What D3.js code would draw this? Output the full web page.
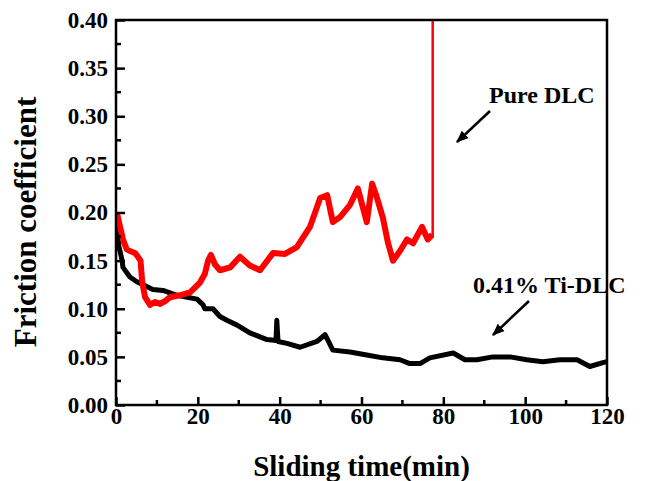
<!DOCTYPE html>
<html>
<head>
<meta charset="utf-8">
<script src="https://cdn.jsdelivr.net/npm/d3@7"></script>
<style>
  body { margin: 0; background: #fff; }
  svg text { font-family: "Liberation Serif", "Times New Roman", serif; font-weight: bold; fill: #000; }
</style>
</head>
<body>
<div id="chart"></div>
<script>
// values
const pureTime = [0.2, 1.0, 1.7, 2.6, 3.4, 4.6, 5.2, 6.0, 6.4, 7.1, 8.3, 9.5, 10.8, 12, 13.2, 15.6, 18.1, 20.5, 21.7, 22.5, 23.2, 24.2, 25.4, 27.9, 30.3, 32.7, 35.2, 38.4, 41.3, 44.2, 47.4, 49.9, 51.6, 53, 54.7, 57.2, 59.1, 61.3, 62.6, 63.8, 65.2, 66.5, 67.7, 69.4, 71.1, 72.6, 74.8, 76.2, 77.3];
const pureCof  = [0.200, 0.185, 0.172, 0.162, 0.160, 0.158, 0.155, 0.150, 0.128, 0.112, 0.104, 0.107, 0.105, 0.108, 0.112, 0.114, 0.117, 0.127, 0.136, 0.150, 0.156, 0.146, 0.140, 0.143, 0.154, 0.145, 0.140, 0.158, 0.157, 0.164, 0.185, 0.215, 0.218, 0.190, 0.195, 0.208, 0.225, 0.190, 0.230, 0.215, 0.195, 0.168, 0.150, 0.160, 0.172, 0.168, 0.185, 0.172, 0.177];
const spikeTime = [77.4, 77.4];
const spikeCof  = [0.175, 0.40];

const tiTime = [0.2, 0.7, 1.5, 1.7, 3.4, 5.1, 6.6, 9, 11.5, 14.9, 17.4, 19.8, 21.3, 21.7, 23.7, 25.4, 27.1, 29.6, 32.7, 36.9, 39.1, 39.3, 39.6, 41.8, 45, 49.1, 51.1, 53, 57.2, 61.3, 65.2, 69.4, 71.8, 74.3, 76.7, 82.4, 85.3, 88.2, 92.1, 96.3, 100.4, 104.3, 108.5, 112.7, 115.8, 119, 120];
const tiCof  = [0.185, 0.165, 0.150, 0.143, 0.133, 0.128, 0.125, 0.120, 0.119, 0.114, 0.112, 0.110, 0.104, 0.100, 0.100, 0.092, 0.088, 0.083, 0.075, 0.068, 0.067, 0.088, 0.066, 0.064, 0.060, 0.066, 0.073, 0.057, 0.055, 0.052, 0.049, 0.047, 0.043, 0.043, 0.049, 0.054, 0.047, 0.047, 0.050, 0.050, 0.047, 0.045, 0.047, 0.047, 0.040, 0.044, 0.045];

const xTicks = [0, 20, 40, 60, 80, 100, 120];
const xMinor = [10, 30, 50, 70, 90, 110];
const yTicks = [0, 0.05, 0.10, 0.15, 0.20, 0.25, 0.30, 0.35, 0.40];
const yMinor = [0.025, 0.075, 0.125, 0.175, 0.225, 0.275, 0.325, 0.375];

const W = 655, H = 481;
const margin = { top: 20, right: 48, bottom: 76, left: 116 };
const width = W - margin.left - margin.right;
const height = H - margin.top - margin.bottom;

const svg = d3.select("#chart").append("svg")
  .attr("width", W)
  .attr("height", H);

const g = svg.append("g")
  .attr("transform", `translate(${margin.left},${margin.top})`);

const x = d3.scaleLinear().domain([0, 120]).range([0, width]);
const y = d3.scaleLinear().domain([0, 0.40]).range([height, 0]);

g.append("clipPath").attr("id", "clip")
  .append("rect").attr("width", width).attr("height", height);

const line = d3.line().x(d => x(d[0])).y(d => y(d[1]));

const plot = g.append("g").attr("clip-path", "url(#clip)");

plot.append("path")
  .datum(tiTime.map((t, i) => [t, tiCof[i]]))
  .attr("fill", "none")
  .attr("stroke", "#000")
  .attr("stroke-width", 5)
  .attr("stroke-linejoin", "round")
  .attr("d", line);

plot.append("path")
  .datum(pureTime.map((t, i) => [t, pureCof[i]]))
  .attr("fill", "none")
  .attr("stroke", "#ff0000")
  .attr("stroke-width", 6)
  .attr("stroke-linejoin", "round")
  .attr("d", line);

plot.append("path")
  .datum(spikeTime.map((t, i) => [t, spikeCof[i]]))
  .attr("fill", "none")
  .attr("stroke", "#ff0000")
  .attr("stroke-width", 2.5)
  .attr("d", line);

// axes
const xAxis = g.append("g")
  .attr("transform", `translate(0,${height})`)
  .call(d3.axisBottom(x).tickValues(xTicks).tickSize(-8).tickPadding(3).tickFormat(d3.format("d")));
xAxis.append("g").selectAll("line").data(xMinor).enter().append("line")
  .attr("x1", d => x(d)).attr("x2", d => x(d)).attr("y1", 0).attr("y2", -5)
  .attr("stroke", "#000").attr("stroke-width", 2.5);

const yAxis = g.append("g")
  .call(d3.axisLeft(y).tickValues(yTicks).tickSize(-9).tickPadding(8).tickFormat(d3.format(".2f")));
yAxis.append("g").selectAll("line").data(yMinor).enter().append("line")
  .attr("x1", 0).attr("x2", 5).attr("y1", d => y(d)).attr("y2", d => y(d))
  .attr("stroke", "#000").attr("stroke-width", 2.5);

[xAxis, yAxis].forEach(ax => {
  ax.select(".domain").remove();
  ax.selectAll(".tick line").attr("stroke", "#000").attr("stroke-width", 2.5);
  ax.selectAll(".tick text").style("font-size", "23px");
});

// frame
g.append("rect")
  .attr("width", width).attr("height", height)
  .attr("fill", "none").attr("stroke", "#000").attr("stroke-width", 2.5);

// axis titles
svg.append("text")
  .attr("x", margin.left + width / 2)
  .attr("y", 476)
  .attr("text-anchor", "middle")
  .style("font-size", "29px")
  .text("Sliding time(min)");

svg.append("text")
  .attr("transform", `translate(36,${222}) rotate(-90)`)
  .attr("text-anchor", "middle")
  .style("font-size", "31px")
  .text("Friction coefficient");

// annotations
svg.append("defs").append("marker")
  .attr("id", "arrow")
  .attr("viewBox", "0 0 10 10")
  .attr("refX", 9).attr("refY", 5)
  .attr("markerWidth", 5).attr("markerHeight", 5)
  .attr("orient", "auto")
  .append("path").attr("d", "M0,1 L10,5 L0,9 Z").attr("fill", "#000");

const notes = [
  { text: "Pure DLC", tx: 489, ty: 103, x1: 490, y1: 111, x2: 457, y2: 142 },
  { text: "0.41% Ti-DLC", tx: 473, ty: 293, x1: 529, y1: 301, x2: 493, y2: 335 }
];

notes.forEach(n => {
  svg.append("text").attr("x", n.tx).attr("y", n.ty).style("font-size", "24px").text(n.text);
  svg.append("line")
    .attr("x1", n.x1).attr("y1", n.y1).attr("x2", n.x2).attr("y2", n.y2)
    .attr("stroke", "#000").attr("stroke-width", 2.5)
    .attr("marker-end", "url(#arrow)");
});
</script>
</body>
</html>
